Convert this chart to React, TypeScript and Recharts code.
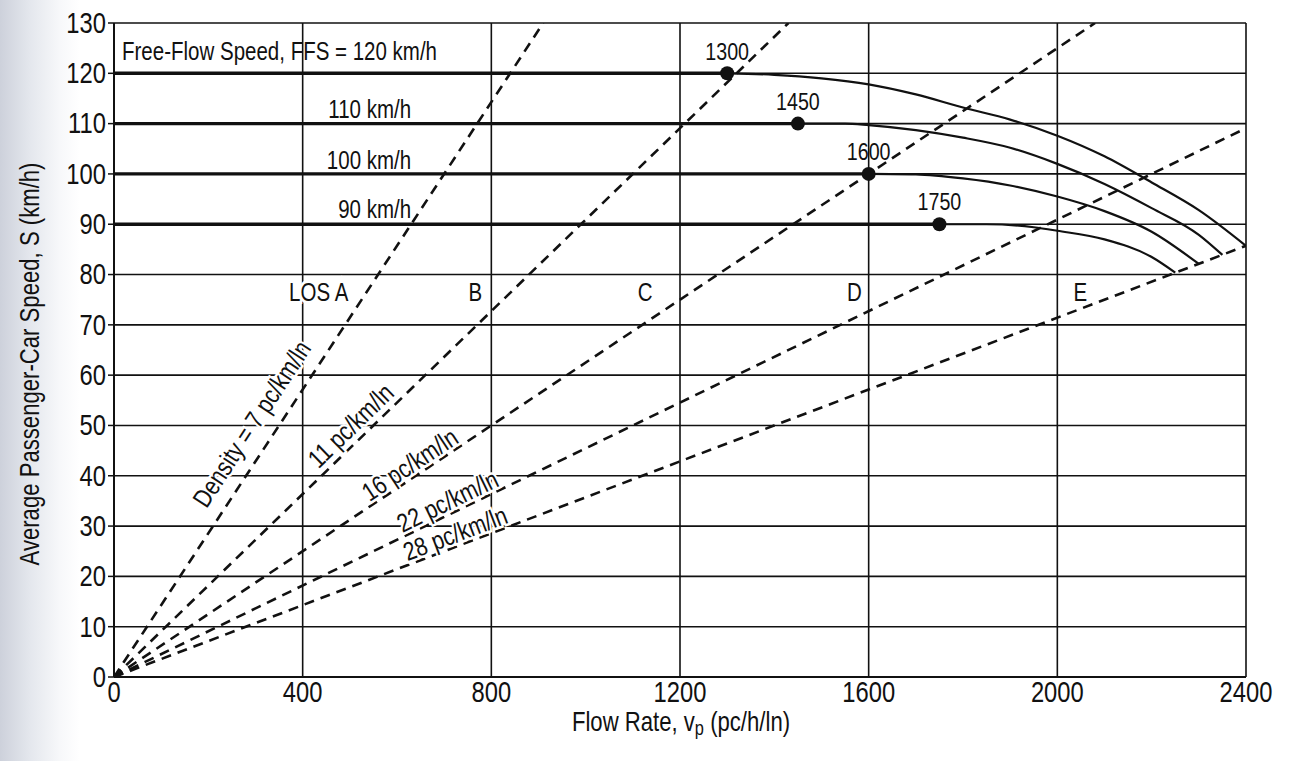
import React from 'react';
import { ComposedChart, Line, Scatter, XAxis, YAxis, CartesianGrid } from 'recharts';

// ---------- data ----------
const xTicks = [0, 400, 800, 1200, 1600, 2000, 2400];
const yTicks = [0, 10, 20, 30, 40, 50, 60, 70, 80, 90, 100, 110, 120, 130];

// free-flow speeds and their breakpoints (flow where speed starts to drop)
const ffsSpeeds = [120, 110, 100, 90];
const breakpoints = [1300, 1450, 1600, 1750];

// speed-flow curves beyond the breakpoint
const curve120Flow = [1300, 1400, 1500, 1600, 1700, 1800, 1900, 2000, 2100, 2200, 2300, 2400];
const curve120Speed = [120, 119.7, 119.0, 117.8, 115.8, 113.2, 110.8, 107.6, 103.5, 98.3, 92.8, 85.7];
const curve110Flow = [1450, 1550, 1600, 1700, 1800, 1900, 2000, 2100, 2200, 2300, 2350];
const curve110Speed = [110, 110, 109.7, 108.7, 107.2, 105.2, 102.0, 98.0, 93.2, 87.9, 83.9];
const curve100Flow = [1600, 1700, 1800, 1900, 2000, 2100, 2200, 2300];
const curve100Speed = [100, 99.9, 99.1, 97.7, 95.5, 92.6, 88.5, 82.1];
const curve90Flow = [1750, 1850, 1950, 2000, 2100, 2200, 2250];
const curve90Speed = [90, 90, 89.4, 88.7, 87.0, 83.5, 80.4];

// density lines (pc/km/ln)
const densities = [7, 11, 16, 22, 28];
const densityTexts = ['Density = 7 pc/km/ln', '11 pc/km/ln', '16 pc/km/ln', '22 pc/km/ln', '28 pc/km/ln'];
const densityLabelFlows = [334, 525, 642, 719, 733];

// texts
const ffsTexts = ['Free-Flow Speed, FFS = 120 km/h', '110 km/h', '100 km/h', '90 km/h'];
const losTexts = ['LOS A', 'B', 'C', 'D', 'E'];

// ---------- layout ----------
const W = 1300;
const H = 761;
const MARGIN = { top: 23, right: 54, bottom: 0, left: 0 };
const Y_AXIS_W = 114;
const X_AXIS_H = 84;
const PLOT_W = W - MARGIN.right - MARGIN.left - Y_AXIS_W;
const PLOT_H = H - MARGIN.top - MARGIN.bottom - X_AXIS_H;
const X_MAX = 2400;
const Y_MAX = 130;
const pxPerFlow = PLOT_W / X_MAX;
const pxPerSpeed = PLOT_H / Y_MAX;

const FONT = "'Liberation Sans', Arial, Helvetica, sans-serif";
const NARROW = 0.82;
const INK = '#111';

// annotation anchor points (data coordinates)
const ffsLabelX = [17, 630, 630, 630];
const ffsLabelY = [124.3, 112.9, 102.8, 92.9];
const ffsLabelAnchor = ['start', 'end', 'end', 'end'];
const losLabelX = [434, 766, 1126, 1570, 2049];
const losLabelY = 76.5;
const densityLabelOffsets = [24, 16, 13, 13, 13];

// ---------- derived series ----------
const toPts = (xs: number[], ys: number[]) => xs.map((x, i) => ({ x, y: ys[i] }));
const flatLines = ffsSpeeds.map((s, i) => [
  { x: 0, y: s },
  { x: breakpoints[i], y: s },
]);
const curves = [
  toPts(curve120Flow, curve120Speed),
  toPts(curve110Flow, curve110Speed),
  toPts(curve100Flow, curve100Speed),
  toPts(curve90Flow, curve90Speed),
];
const densityLines = densities.map((d) => {
  const endX = Math.min(X_MAX, Y_MAX * d);
  return [
    { x: 0, y: 0 },
    { x: endX, y: endX / d },
  ];
});
const dots = breakpoints.map((b, i) => ({ x: b, y: ffsSpeeds[i], text: String(b) }));
const ffsLabels = ffsTexts.map((t, i) => ({ x: ffsLabelX[i], y: ffsLabelY[i], text: t, anchor: ffsLabelAnchor[i] }));
const losLabels = losTexts.map((t, i) => ({ x: losLabelX[i], y: losLabelY, text: t }));
const densityLabels = densities.map((d, i) => ({
  x: densityLabelFlows[i],
  y: densityLabelFlows[i] / d,
  density: d,
  text: densityTexts[i],
  offset: densityLabelOffsets[i],
}));

// ---------- narrow text helper ----------
type NTProps = {
  x: number;
  y: number;
  size: number;
  anchor?: string;
  rotate?: number;
  halo?: number;
  baseline?: string;
  children: React.ReactNode;
};
const NarrowText = ({ x, y, size, anchor = 'middle', rotate = 0, halo = 0, baseline = 'central', children }: NTProps) => (
  <g transform={`translate(${x} ${y}) rotate(${rotate})`}>
    <text
      transform={`scale(${NARROW} 1)`}
      x={0}
      y={0}
      textAnchor={anchor as any}
      dominantBaseline={baseline as any}
      fontFamily={FONT}
      fontSize={size}
      fill={INK}
      stroke={halo ? '#fff' : undefined}
      strokeWidth={halo || undefined}
      paintOrder="stroke"
    >
      {children}
    </text>
  </g>
);

// ---------- shapes ----------
const DotShape = (p: any) => (
  <g>
    <circle cx={p.cx} cy={p.cy} r={7} fill={INK} />
    <NarrowText x={p.cx} y={p.cy - 22} size={24}>
      {p.payload.text}
    </NarrowText>
  </g>
);

const FfsTextShape = (p: any) => (
  <NarrowText x={p.cx} y={p.cy} size={25} anchor={p.payload.anchor}>
    {p.payload.text}
  </NarrowText>
);

const LosTextShape = (p: any) => (
  <NarrowText x={p.cx} y={p.cy} size={25} halo={6}>
    {p.payload.text}
  </NarrowText>
);

const DensityTextShape = (p: any) => {
  const th = Math.atan(pxPerSpeed / (pxPerFlow * p.payload.density));
  const off = p.payload.offset;
  const tx = p.cx - off * Math.sin(th);
  const ty = p.cy - off * Math.cos(th);
  const deg = (-th * 180) / Math.PI;
  return (
    <NarrowText x={tx} y={ty} size={26} rotate={deg} halo={5}>
      {p.payload.text}
    </NarrowText>
  );
};

const XTick = (p: any) => (
  <NarrowText x={p.x} y={p.y + 15} size={29}>
    {p.payload.value}
  </NarrowText>
);

const YTick = (p: any) => (
  <NarrowText x={p.x} y={p.y} size={29} anchor="end">
    {p.payload.value}
  </NarrowText>
);

const YLabel = () => (
  <NarrowText x={30} y={364} size={27} rotate={-90}>
    Average Passenger-Car Speed, S (km/h)
  </NarrowText>
);

const XLabel = () => (
  <NarrowText x={681} y={721} size={27}>
    <tspan>Flow Rate, v</tspan>
    <tspan dy={6} fontSize={20}>
      p
    </tspan>
    <tspan dy={-6}> (pc/h/ln)</tspan>
  </NarrowText>
);

export default function App() {
  return (
    <div
      style={{
        position: 'absolute',
        left: 0,
        top: 0,
        width: W,
        height: H,
        background: 'linear-gradient(to right, #cdd1db 0px, #e4e7ed 30px, #f7f8fa 60px, #ffffff 80px)',
      }}
    >
      <ComposedChart width={W} height={H} margin={MARGIN}>
        <CartesianGrid stroke={INK} strokeWidth={1.6} />
        <XAxis
          type="number"
          dataKey="x"
          domain={[0, X_MAX]}
          ticks={xTicks}
          interval={0}
          height={X_AXIS_H}
          axisLine={{ stroke: INK, strokeWidth: 2 }}
          tickLine={false}
          tickSize={0}
          tickMargin={0}
          tick={<XTick />}
          allowDataOverflow
          label={<XLabel />}
        />
        <YAxis
          type="number"
          dataKey="y"
          domain={[0, Y_MAX]}
          ticks={yTicks}
          interval={0}
          width={Y_AXIS_W}
          axisLine={{ stroke: INK, strokeWidth: 2 }}
          tickLine={{ stroke: INK, strokeWidth: 1.5 }}
          tickSize={6}
          tickMargin={2}
          tick={<YTick />}
          allowDataOverflow
          label={<YLabel />}
        />
        {densityLines.map((pts, i) => (
          <Line
            key={`d${i}`}
            data={pts}
            dataKey="y"
            type="linear"
            stroke={INK}
            strokeWidth={2.6}
            strokeDasharray="10 7"
            dot={false}
            activeDot={false}
            isAnimationActive={false}
          />
        ))}
        {flatLines.map((pts, i) => (
          <Line
            key={`f${i}`}
            data={pts}
            dataKey="y"
            type="linear"
            stroke={INK}
            strokeWidth={3.4}
            dot={false}
            activeDot={false}
            isAnimationActive={false}
          />
        ))}
        {curves.map((pts, i) => (
          <Line
            key={`c${i}`}
            data={pts}
            dataKey="y"
            type="monotone"
            stroke={INK}
            strokeWidth={2.2}
            dot={false}
            activeDot={false}
            isAnimationActive={false}
          />
        ))}
        <Scatter data={densityLabels} dataKey="y" shape={DensityTextShape} isAnimationActive={false} />
        <Scatter data={losLabels} dataKey="y" shape={LosTextShape} isAnimationActive={false} />
        <Scatter data={ffsLabels} dataKey="y" shape={FfsTextShape} isAnimationActive={false} />
        <Scatter data={dots} dataKey="y" shape={DotShape} isAnimationActive={false} />
      </ComposedChart>
    </div>
  );
}
